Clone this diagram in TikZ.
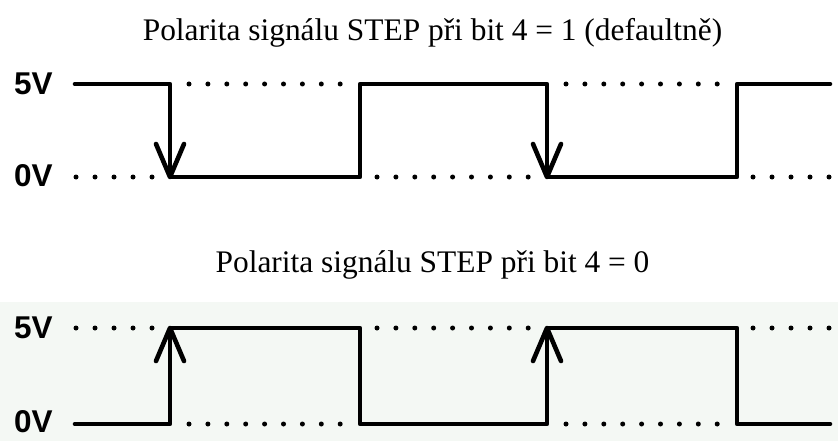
\documentclass[tikz,border=0pt]{standalone}
\usepackage{fontspec}
\setmainfont{Liberation Serif}
\newfontfamily\levelfont{Liberation Sans}
\begin{document}
\begin{tikzpicture}[x=1pt,y=-1pt,
  wave/.style={line width=4.6pt,line cap=round,line join=round},
  edgehead/.style={line width=4.6pt,line cap=round,line join=round},
  title/.style={anchor=base,inner sep=0pt,font=\fontsize{31.4}{36}\selectfont},
  level/.style={anchor=west,inner sep=0pt,font=\levelfont\bfseries\fontsize{31.5}{36}\selectfont}]
\definecolor{paneltint}{RGB}{244,248,244}
\useasboundingbox (0,0) rectangle (838,441);
\fill[white] (0,0) rectangle (838,302);
\fill[paneltint] (0,302) rectangle (838,441);

% ---------- upper panel: active falling edge ----------
\node[title] (t1) at (432.5,41) {Polarita signálu STEP při bit 4 = 1 (defaultně)};
\node[level] (hi1) at (14,84) {5V};
\node[level] (lo1) at (14,176) {0V};

\draw[wave] (75,84) -- (170,84) -- (170,177) -- (360,177) -- (360,84)
  -- (547,84) -- (547,177) -- (737,177) -- (737,84) -- (830,84);
\draw[edgehead] (156,144) -- (170,177) -- (184,144);
\draw[edgehead] (533,144) -- (547,177) -- (561,144);

\foreach \s in {189,566} \foreach \k in {0,...,8} \fill (\s+\k*18.9,84) circle (2.5pt);
\foreach \s in {377} \foreach \k in {0,...,8} \fill (\s+\k*18.9,177) circle (2.5pt);
\foreach \s in {76,753} \foreach \k in {0,...,4} \fill (\s+\k*19,177) circle (2.5pt);

% ---------- lower panel: active rising edge ----------
\node[title] (t2) at (432.5,272) {Polarita signálu STEP při bit 4 = 0};
\node[level] (hi2) at (14,328) {5V};
\node[level] (lo2) at (14,422) {0V};

\draw[wave] (75,424) -- (170,424) -- (170,328) -- (360,328) -- (360,424)
  -- (547,424) -- (547,328) -- (737,328) -- (737,424) -- (830,424);
\draw[edgehead] (156,361) -- (170,328) -- (184,361);
\draw[edgehead] (533,361) -- (547,328) -- (561,361);

\foreach \s in {189,566} \foreach \k in {0,...,8} \fill (\s+\k*18.9,424) circle (2.5pt);
\foreach \s in {377} \foreach \k in {0,...,8} \fill (\s+\k*18.9,328) circle (2.5pt);
\foreach \s in {76,753} \foreach \k in {0,...,4} \fill (\s+\k*19,328) circle (2.5pt);
\end{tikzpicture}
\end{document}
